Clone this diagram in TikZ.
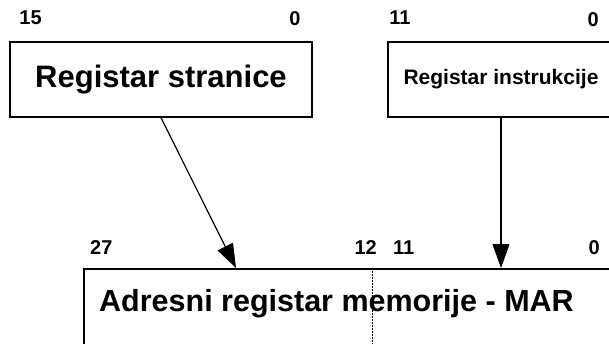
\documentclass[tikz,border=0pt]{standalone}
\usepackage{fontspec}
\setmainfont{Liberation Sans}
\usetikzlibrary{arrows.meta}

\begin{document}
\begin{tikzpicture}[x=1pt, y=1pt]
	\clip (0,0) rectangle (609,343);
	\useasboundingbox (0,0) rectangle (609,343);
	% registers
	\begin{scope}[every node/.style = {draw, line width=1.6pt, inner sep=0pt}]
		\node[minimum width=302pt, minimum height=75pt,
			font=\bfseries\fontsize{31}{37}\selectfont] (page) at (161,263.5) {Registar stranice};
		\node[minimum width=226pt, minimum height=75pt,
			font=\bfseries\fontsize{21}{25}\selectfont] (instr) at (501,263.5) {Registar instrukcije};
		\node[minimum width=560pt, minimum height=120pt, anchor=north west] (mar) at (83,75) {};
	\end{scope}
	\node[font=\bfseries\fontsize{30.5}{36}\selectfont, inner sep=0pt, anchor=base west]
		(martext) at (99,32) {Adresni registar memorije - MAR};
	% bit numbers
	\begin{scope}[every node/.style = {inner sep=0pt, font=\bfseries\fontsize{20}{24}\selectfont}]
		\node[anchor=base west] (page15) at ([shift={(10pt,17pt)}]page.north west) {15};
		\node[anchor=base east] (page0) at ([shift={(-12pt,16pt)}]page.north east) {0};
		\node[anchor=base west] (instr11) at ([shift={(2pt,17pt)}]instr.north west) {11};
		\node[anchor=base east] (instr0) at (599,316) {0};
		\node[anchor=base west] (mar27) at ([shift={(7pt,14pt)}]mar.north west) {27};
		\node[anchor=base east] (mar12) at (377,89) {12};
		\node[anchor=base west] (mar11) at (393,89) {11};
		\node[anchor=base east] (mar0) at (600,89) {0};
	\end{scope}
	\coordinate (split) at (372,75);
	\coordinate (pagein) at (236,75);
	\coordinate (instrin) at (instr.south |- mar.north);
	\draw[dash pattern=on 1.5pt off 1.5pt, line width=1pt] (split) -- (split |- mar.south);
	\begin{scope}[>={Triangle[length=24pt, width=17pt]},
			every edge/.style={draw=black, line width=1.2pt}]
		\path [->] (page.south) edge (pagein);
		\path [->] (instr.south) edge (instrin);
	\end{scope}
\end{tikzpicture}
\end{document}
